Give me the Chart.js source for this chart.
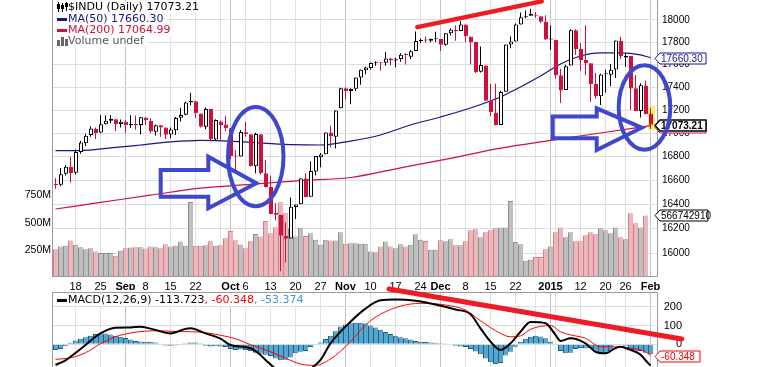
<!DOCTYPE html>
<html><head><meta charset="utf-8">
<script src="https://cdn.jsdelivr.net/npm/chart.js@4.4.1/dist/chart.umd.min.js"></script>
<style>
html,body{margin:0;padding:0;background:#fff;overflow:hidden;width:767px;height:367px;position:relative}
canvas{position:absolute;left:0}
#priceChart{top:0;width:767px;height:290px}
#macdChart{top:286px;width:767px;height:110px}
</style></head><body>
<canvas id="priceChart" width="767" height="290"></canvas>
<canvas id="macdChart" width="767" height="110"></canvas>
<script>
// ---------------- DATA ----------------
const dates = [
'2014-08-12','2014-08-13','2014-08-14','2014-08-15','2014-08-18','2014-08-19','2014-08-20','2014-08-21','2014-08-22','2014-08-25',
'2014-08-26','2014-08-27','2014-08-28','2014-08-29','2014-09-02','2014-09-03','2014-09-04','2014-09-05','2014-09-08','2014-09-09',
'2014-09-10','2014-09-11','2014-09-12','2014-09-15','2014-09-16','2014-09-17','2014-09-18','2014-09-19','2014-09-22','2014-09-23',
'2014-09-24','2014-09-25','2014-09-26','2014-09-29','2014-09-30','2014-10-01','2014-10-02','2014-10-03','2014-10-06','2014-10-07',
'2014-10-08','2014-10-09','2014-10-10','2014-10-13','2014-10-14','2014-10-15','2014-10-16','2014-10-17','2014-10-20','2014-10-21',
'2014-10-22','2014-10-23','2014-10-24','2014-10-27','2014-10-28','2014-10-29','2014-10-30','2014-10-31','2014-11-03','2014-11-04',
'2014-11-05','2014-11-06','2014-11-07','2014-11-10','2014-11-11','2014-11-12','2014-11-13','2014-11-14','2014-11-17','2014-11-18',
'2014-11-19','2014-11-20','2014-11-21','2014-11-24','2014-11-25','2014-11-26','2014-11-28','2014-12-01','2014-12-02','2014-12-03',
'2014-12-04','2014-12-05','2014-12-08','2014-12-09','2014-12-10','2014-12-11','2014-12-12','2014-12-15','2014-12-16','2014-12-17',
'2014-12-18','2014-12-19','2014-12-22','2014-12-23','2014-12-24','2014-12-26','2014-12-29','2014-12-30','2014-12-31','2015-01-02',
'2015-01-05','2015-01-06','2015-01-07','2015-01-08','2015-01-09','2015-01-12','2015-01-13','2015-01-14','2015-01-15','2015-01-16',
'2015-01-20','2015-01-21','2015-01-22','2015-01-23','2015-01-26','2015-01-27','2015-01-28','2015-01-29','2015-01-30','2015-02-02'];

const opens = [
16570,16563,16655,16714,16665,16840,16915,16985,17039,17006,
17078,17107,17120,17080,17098,17068,17080,17070,17136,17108,
17012,17068,17049,16990,17025,17133,17160,17267,17277,17170,
17056,17208,16946,17100,17075,17042,16808,16802,17009,16991,
16718,16992,16659,16544,16330,16315,16140,16121,16379,16401,
16615,16463,16675,16796,16820,17006,16969,17215,17390,17366,
17386,17484,17550,17570,17611,17614,17615,17653,17635,17650,
17690,17670,17720,17810,17820,17813,17826,17827,17777,17880,
17910,17900,17958,17850,17801,17535,17592,17280,17174,17070,
17360,17778,17806,17960,18025,18039,18046,18035,17987,17823,
17821,17505,17374,17591,17907,17741,17641,17612,17428,17320,
17514,17510,17555,17813,17662,17676,17390,17192,17415,17169];

const highs = [
16620,16705,16730,16800,16860,16935,16995,17060,17050,17154,
17153,17158,17122,17119,17112,17155,17150,17140,17136,17130,
17075,17070,17050,17050,17140,17220,17275,17350,17280,17170,
17222,17210,17120,17110,17150,17045,16857,17027,17099,16991,
17005,16992,16770,16640,16410,16315,16250,16458,16400,16615,
16660,16760,16805,16830,17007,17066,17196,17395,17400,17390,
17485,17555,17580,17618,17630,17618,17711,17660,17660,17701,
17700,17730,17895,17832,17850,17830,17894,17827,17880,17924,
17950,17991,17958,17850,17801,17760,17592,17430,17430,17369,
17778,17851,17968,18069,18086,18103,18073,18035,18043,17951,
17821,17562,17597,17916,17917,17792,17952,17612,17525,17517,
17554,17604,17815,17848,17693,17676,17507,17435,17459,17220];

const lows = [
16530,16550,16640,16580,16650,16825,16890,16970,16950,17000,
17075,17086,17016,17050,17000,17045,17030,16990,17070,17000,
16980,16970,16950,16960,16985,17100,17155,17240,17130,17050,
17035,16940,16940,16945,17015,16780,16674,16802,16970,16716,
16660,16650,16540,16320,16270,15855,15926,16121,16280,16401,
16459,16463,16640,16711,16820,16880,16870,17215,17295,17250,
17366,17420,17513,17555,17590,17544,17589,17592,17576,17625,
17600,17650,17720,17790,17796,17800,17800,17721,17767,17860,
17812,17900,17800,17600,17525,17530,17280,17149,17068,17070,
17360,17745,17806,17960,18015,18039,18021,17970,17820,17731,
17475,17262,17374,17591,17685,17542,17505,17270,17299,17244,
17354,17408,17480,17648,17580,17201,17191,17136,17164,17037];

const closes = [
16560.54,16651.80,16713.58,16662.91,16838.74,16919.59,16979.13,17039.49,17001.22,17076.87,
17106.70,17122.01,17079.57,17098.45,17067.56,17078.28,17069.58,17137.36,17111.42,17013.87,
17068.71,17049.00,16987.51,17031.14,17131.97,17156.85,17265.99,17279.74,17172.68,17055.87,
17210.06,16945.80,17113.15,17071.22,17042.90,16804.71,16801.05,17009.69,16991.91,16719.39,
16994.22,16659.25,16544.10,16321.07,16315.19,16141.74,16117.24,16380.41,16399.67,16614.81,
16461.32,16677.90,16805.41,16817.94,17005.75,16974.31,17195.42,17390.52,17366.24,17383.84,
17484.53,17554.47,17573.93,17613.74,17614.90,17612.20,17652.79,17634.74,17647.75,17687.82,
17685.73,17719.00,17810.06,17817.90,17814.94,17827.75,17828.24,17776.80,17879.55,17912.62,
17900.10,17958.79,17852.48,17801.20,17533.15,17596.34,17280.83,17180.84,17068.87,17356.87,
17778.15,17804.80,17959.44,18024.17,18030.21,18053.71,18038.23,17983.07,17823.07,17832.99,
17501.65,17371.64,17584.52,17907.87,17737.37,17640.84,17613.68,17427.09,17320.71,17511.57,
17515.23,17554.28,17813.98,17672.60,17678.70,17387.21,17191.37,17416.85,17164.95,17073.21];

// volume in millions (last day undefined)
const volumes = [
256,280,287,335,296,275,256,265,235,220,
220,220,195,241,265,272,275,275,262,280,
275,265,302,280,287,326,287,690,287,287,
293,330,287,293,357,424,339,300,265,330,
396,372,516,403,458,687,586,449,372,454,
378,403,342,296,342,335,335,412,305,311,
311,305,305,235,228,280,326,280,265,302,
280,296,394,342,332,250,250,339,330,348,
293,293,330,430,440,366,412,430,449,455,
455,699,323,302,149,158,183,183,256,280,
412,455,366,412,330,330,385,412,394,449,
430,403,455,366,348,586,494,455,566.74291,null];

// moving averages, read at sample days
const ma50Idx  = [0,5,11,17,23,29,35,41,47,53,59,65,71,77,83,89,93,97,101,105,109,113,117,119];
const ma50Vals = [16852,16852,16874,16899,16925,16938,16933,16916,16903,16899,16933,16985,17071,17140,17218,17314,17402,17498,17605,17676,17703,17703,17685,17660.30];
const ma200Idx  = [0,9,19,29,39,49,59,69,79,89,99,109,119];
const ma200Vals = [16362,16416,16477,16535,16566,16598,16624,16705,16785,16872,16938,17002,17064.99];

// MACD(12,26,9), read at sample days
const macdIdx  = [0,2,5,9,12,15,17,20,23,26,27,30,33,35,39,41,42,44,46,48,50,53,55,59,62,65,68,72,76,80,83,85,87,89,91,93,95,98,100,101,103,106,108,110,112,113,115,117,118,119];
const macdVals = [-110,-85,-25,58,88,90,94,76,58,82,85,58,30,-4,-21,-57,-83,-130,-175,-180,-150,-83,5,120,190,234,238,232,212,185,160,85,14,-30,5,67,118,112,50,18,32,5,-40,-48,-20,-13,-30,-55,-85,-113.723];
const signalIdx  = [0,3,6,9,12,15,18,21,24,27,30,33,36,39,41,43,46,49,52,55,59,62,65,69,73,78,82,85,89,91,93,95,99,101,103,106,109,111,115,118,119];
const signalVals = [-80,-72,-45,3,40,60,70,72,68,67,62,48,30,-2,-20,-40,-74,-105,-112,-78,14,103,160,203,218,209,182,125,58,40,45,80,100,67,50,32,-13,-13,-21,-39,-60.348];
const histVals = [
-30,-25,-10,8,20,30,38,45,55,58,
58,52,45,40,33,25,18,15,14,13,
10,2,-6,-8,-7,-4,6,10,10,6,
-8,-12,-10,-12,-15,-25,-30,-28,-30,-35,
-45,-50,-55,-62,-75,-85,-82,-70,-48,-40,
-35,-15,-3,10,28,45,70,95,105,112,
115,115,110,100,90,78,65,55,45,38,
32,25,18,14,12,10,8,6,4,0,
-8,-12,-15,-25,-38,-53,-75,-95,-105,-100,
-60,-39,-13,14,30,40,45,42,32,14,
-3,-35,-48,-45,-25,-20,-22,-20,-40,-48,
-45,-35,-5,-2,-8,-30,-40,-35,-45,-53.374];

// axis ticks
const priceTicks = [16000,16200,16400,16600,16800,17000,17200,17400,17600,17800,18000];
const volumeTicks = [250,500,750];
const macdTicks = [0,100,200];
const tickDates = ['2014-08-18','2014-08-25','2014-09-02','2014-09-08','2014-09-15','2014-09-22','2014-09-29','2014-10-01','2014-10-06','2014-10-13','2014-10-20','2014-10-27','2014-11-03','2014-11-10','2014-11-17','2014-11-24','2014-12-01','2014-12-08','2014-12-15','2014-12-22','2014-12-29','2015-01-02','2015-01-05','2015-01-12','2015-01-20','2015-01-26','2015-02-02'];
const tickLabels = ['18','25','Sep','8','15','22','','Oct','6','13','20','27','Nov','10','17','24','Dec','8','15','22','','2015','','12','20','26','Feb'];
const monthLabels = ['Sep','Oct','Nov','Dec','2015','Feb'];

// hand-drawn annotations, in data coordinates [day index, value]
const annTopTrend = [[72.36,17935],[97.24,18170]];
const annEllipse1 = {i0:34.1, i1:46.0, top:17244, bottom:16368};
const annArrow1 = [[21.04,16687],[30.56,16687],[30.56,16800],[40.16,16576],[30.56,16368],[30.56,16464],[21.04,16464]];
const annEllipse2 = {i0:112.24, i1:123.36, top:17611, bottom:16842};
const annArrow2 = [[99.44,17143],[108.24,17143],[108.24,17215],[117.24,17047],[108.24,16857],[108.24,16957],[99.44,16957]];
const annMacdTrend = [[66.7,294],[125.24,28.2]];

// ---------------- STYLE / LAYOUT ----------------
const AXIS_FONT = '"Liberation Sans", Arial, sans-serif';
const LEG_FONT = '"DejaVu Sans", Verdana, sans-serif';
const RED = '#d0103c';
const NAVY = '#16168a';
const PAINT_BLUE = '#3f48cc';
const PAINT_RED = '#ed1c24';
const PRICE_MAX = 18182.6, PRICE_MIN = 15809.7;
const VOL_MAX = 2550e6;
const MACD_MAX = 278.2, MACD_MIN = -275;
const BODY_SHIFT = 0.1; // half-pixel shift (in day units) so 4px bodies sit on whole pixels

const labelsAll = dates.concat(['']);
const n = dates.length;
const last = n - 1;
const upDay = closes.map((c,i) => i === 0 ? c >= opens[0] : c >= closes[i-1]);
const candleColor = upDay.map(u => u ? '#000000' : RED);
const hollow = closes.map((c,i) => c > opens[i]);
const tickIdx = tickDates.map(d => dates.indexOf(d));
const tickText = {}; tickIdx.forEach((ix,k) => tickText[ix] = tickLabels[k]);
const isMonth = ix => monthLabels.includes(tickText[ix]);

function zeroPad(s){ s.paddingTop = 0; s.paddingBottom = 0; s.paddingLeft = 0; s.paddingRight = 0; }

function xScale(show) {
  return {
    type: 'category', labels: labelsAll, offset: true,
    afterBuildTicks: s => { s.ticks = tickIdx.map(v => ({value: v})); },
    grid: { offset: false, drawTicks: false, lineWidth: 1,
      color: c => (c.tick && isMonth(c.tick.value)) ? '#c2c2c2' : '#e2e2e2' },
    border: { display: false },
    ticks: { autoSkip: false, maxRotation: 0, minRotation: 0, padding: 3,
      color: show ? '#000' : 'rgba(0,0,0,0)',
      font: c => ({ family: AXIS_FONT, size: 11, weight: (c.tick && monthLabels.includes(c.tick.label)) ? 'bold' : 'normal' }),
      callback: v => (tickText[v] !== undefined ? tickText[v] : '') },
    afterFit: s => { s.height = show ? 13 : 0; zeroPad(s); }
  };
}

const pt = (idx, vals) => idx.map((ix,k) => ({x: labelsAll[ix], y: vals[k]}));

// ---------------- DRAW HELPERS ----------------
function drawLegend(ctx, x0, lines) {
  ctx.save();
  ctx.font = '11px ' + LEG_FONT;
  ctx.textBaseline = 'middle';
  ctx.textAlign = 'left';
  lines.forEach(L => {
    let w = 0; L.parts.forEach(p => w += ctx.measureText(p[0]).width);
    ctx.fillStyle = '#fff';
    ctx.fillRect(x0, L.y - 6, 15 + w + 2, 12);
    const ix = x0 + 2;
    if (L.icon === 'line') { ctx.fillStyle = L.iconColor; ctx.fillRect(ix + 1, L.y - 1, 10, 3); }
    if (L.icon === 'candle') {
      ctx.fillStyle = '#000';
      ctx.fillRect(ix + 2, L.y - 5, 1, 10); ctx.fillRect(ix + 1, L.y - 3, 3, 5);
      ctx.fillRect(ix + 6, L.y - 4, 1, 9); ctx.fillRect(ix + 5, L.y - 2, 3, 4);
      ctx.fillRect(ix + 10, L.y - 5, 1, 9); ctx.fillRect(ix + 9, L.y - 4, 3, 4);
    }
    if (L.icon === 'bars') {
      ctx.fillStyle = '#666';
      ctx.fillRect(ix + 1, L.y - 1, 3, 6); ctx.fillRect(ix + 5, L.y - 4, 3, 9); ctx.fillRect(ix + 9, L.y - 2, 3, 7);
    }
    let tx = x0 + 14;
    L.parts.forEach(p => { ctx.fillStyle = p[1]; ctx.fillText(p[0], tx, L.y + 0.5); tx += ctx.measureText(p[0]).width; });
  });
  ctx.restore();
}

function drawTag(ctx, xTip, yv, text, stroke, color, bold, w) {
  const yc = Math.round(yv) + 0.5, h = 11, x0 = xTip + 5;
  ctx.save();
  ctx.beginPath();
  ctx.moveTo(xTip, yc);
  ctx.lineTo(x0, yc - h / 2);
  ctx.lineTo(x0 + w, yc - h / 2);
  ctx.lineTo(x0 + w, yc + h / 2);
  ctx.lineTo(x0, yc + h / 2);
  ctx.closePath();
  ctx.fillStyle = '#fff'; ctx.fill();
  ctx.lineWidth = bold ? 1.5 : 1; ctx.strokeStyle = stroke; ctx.stroke();
  ctx.fillStyle = color;
  ctx.font = (bold ? 'bold ' : '') + '10px ' + AXIS_FONT;
  ctx.textBaseline = 'middle'; ctx.textAlign = 'left';
  ctx.fillText(text, x0 + 1, yc + 0.5);
  ctx.restore();
}

function strokeBorder(ctx, a, sides) {
  ctx.save(); ctx.strokeStyle = '#9c9c9c'; ctx.lineWidth = 1; ctx.beginPath();
  const L = Math.round(a.left) - 0.5, R = Math.round(a.right) - 0.5, T = Math.round(a.top) + 0.5, B = Math.round(a.bottom) - 0.5;
  if (sides.includes('l')) { ctx.moveTo(L, a.top); ctx.lineTo(L, a.bottom); }
  if (sides.includes('r')) { ctx.moveTo(R, a.top); ctx.lineTo(R, a.bottom); }
  if (sides.includes('t')) { ctx.moveTo(L, T); ctx.lineTo(R, T); }
  if (sides.includes('b')) { ctx.moveTo(L, B); ctx.lineTo(R, B); }
  ctx.stroke(); ctx.restore();
}

// ---------------- PRICE / VOLUME CHART ----------------
const priceDecor = {
  id: 'priceDecor',
  beforeDatasetsDraw(chart) {
    const {ctx, scales: {x, y}} = chart;
    const cx = x.getPixelForValue(last);
    const t = y.getPixelForValue(highs[last]) - 2, b = y.getPixelForValue(lows[last]) + 1;
    ctx.save(); ctx.fillStyle = '#f6f07a'; ctx.fillRect(Math.round(cx - 3), t, 7, b - t); ctx.restore();
  },
  afterDraw(chart) {
    const {ctx, chartArea: a, scales: {x, y, yv}} = chart;
    strokeBorder(ctx, a, 'lrb');
    drawLegend(ctx, 54, [
      {y: 7, icon: 'candle', parts: [['$INDU (Daily) ' + closes[last].toFixed(2), '#000']]},
      {y: 19, icon: 'line', iconColor: NAVY, parts: [['MA(50) ' + ma50Vals[ma50Vals.length-1].toFixed(2), NAVY]]},
      {y: 30, icon: 'line', iconColor: RED, parts: [['MA(200) ' + ma200Vals[ma200Vals.length-1].toFixed(2), RED]]},
      {y: 41, icon: 'bars', parts: [['Volume undef', '#555']]}
    ]);
    const tip = Math.round(a.right) - 3;
    drawTag(ctx, tip, y.getPixelForValue(ma50Vals[ma50Vals.length-1]), ma50Vals[ma50Vals.length-1].toFixed(2), NAVY, NAVY, false, 46);
    drawTag(ctx, tip, y.getPixelForValue(ma200Vals[ma200Vals.length-1]) + 1, ma200Vals[ma200Vals.length-1].toFixed(2), RED, RED, false, 46);
    drawTag(ctx, tip, y.getPixelForValue(closes[last]), closes[last].toFixed(2), '#000', '#000', true, 46);
    const lastVol = volumes[n - 2];
    drawTag(ctx, tip, yv.getPixelForValue(lastVol * 1e6), String(Math.round(lastVol * 1e6)), '#000', '#000', false, 48);

    const P = (i, v) => [x.getPixelForValue(i), y.getPixelForValue(v)];
    ctx.save();
    ctx.strokeStyle = PAINT_RED; ctx.lineWidth = 4.5; ctx.lineCap = 'round';
    ctx.beginPath();
    let p0 = P(...annTopTrend[0]), p1 = P(...annTopTrend[1]);
    ctx.moveTo(p0[0], p0[1]); ctx.lineTo(p1[0], p1[1]); ctx.stroke();
    ctx.strokeStyle = PAINT_BLUE; ctx.lineWidth = 4; ctx.lineCap = 'butt'; ctx.lineJoin = 'miter'; ctx.miterLimit = 4;
    [annEllipse1, annEllipse2].forEach(e => {
      const [xl, yt] = P(e.i0, e.top), [xr, yb] = P(e.i1, e.bottom);
      ctx.beginPath();
      ctx.ellipse((xl + xr) / 2, (yt + yb) / 2, (xr - xl) / 2 - 2, (yb - yt) / 2 - 2, 0, 0, Math.PI * 2);
      ctx.stroke();
    });
    [annArrow1, annArrow2].forEach(arr => {
      ctx.beginPath();
      arr.forEach((q, k) => { const [px, py] = P(q[0], q[1]); if (k === 0) ctx.moveTo(px, py); else ctx.lineTo(px, py); });
      ctx.closePath(); ctx.stroke();
    });
    ctx.restore();
  }
};

new Chart(document.getElementById('priceChart'), {
  type: 'bar',
  data: {
    labels: labelsAll,
    datasets: [
      { type: 'bar', label: 'body', xAxisID: 'xb', yAxisID: 'y', order: 1, grouped: false,
        data: dates.map((d,i) => ({x: i, y: [Math.min(opens[i], closes[i]), Math.max(opens[i], closes[i])]})),
        barThickness: 4, minBarLength: 1, borderWidth: 1, borderSkipped: false, inflateAmount: 0,
        backgroundColor: hollow.map((h,i) => h ? '#ffffff' : candleColor[i]), borderColor: candleColor },
      { type: 'bar', label: 'wick', yAxisID: 'y', order: 2, grouped: false,
        data: dates.map((d,i) => [lows[i], highs[i]]),
        barThickness: 1, borderWidth: 0, inflateAmount: 0, backgroundColor: candleColor },
      { type: 'line', label: 'MA50', yAxisID: 'y', order: 3, data: pt(ma50Idx, ma50Vals),
        borderColor: NAVY, borderWidth: 1.2, pointRadius: 0, cubicInterpolationMode: 'monotone' },
      { type: 'line', label: 'MA200', yAxisID: 'y', order: 4, data: pt(ma200Idx, ma200Vals),
        borderColor: RED, borderWidth: 1.2, pointRadius: 0, cubicInterpolationMode: 'monotone' },
      { type: 'bar', label: 'Volume', yAxisID: 'yv', order: 5, grouped: false,
        data: volumes.map(v => v == null ? null : v * 1e6),
        barPercentage: 1, categoryPercentage: 1, inflateAmount: 0,
        borderWidth: {left: 1, top: 1, right: 0, bottom: 0}, borderSkipped: false,
        backgroundColor: upDay.map(u => u ? '#bfbfbf' : '#e9b7bc'),
        borderColor: upDay.map(u => u ? '#8e8e8e' : '#d6808b') }
    ]
  },
  options: {
    responsive: false, animation: false, devicePixelRatio: 1, events: [],
    layout: { padding: 0 },
    plugins: { legend: { display: false }, tooltip: { enabled: false } },
    scales: {
      x: xScale(true),
      xb: { type: 'linear', display: false, offset: false, position: 'bottom',
        min: -0.5 - BODY_SHIFT, max: labelsAll.length - 0.5 - BODY_SHIFT, bounds: 'data' },
      y: { type: 'logarithmic', position: 'right', min: PRICE_MIN, max: PRICE_MAX, bounds: 'data',
        afterBuildTicks: s => { s.ticks = priceTicks.map(v => ({value: v})); },
        grid: { color: '#dedede', drawTicks: false }, border: { display: false },
        ticks: { autoSkip: false, padding: 4, crossAlign: 'near', color: '#000',
          font: { family: AXIS_FONT, size: 10 }, callback: v => String(v) },
        afterFit: s => { s.width = 109; zeroPad(s); } },
      yv: { type: 'linear', position: 'left', min: 0, max: VOL_MAX, bounds: 'data',
        afterBuildTicks: s => { s.ticks = volumeTicks.map(v => ({value: v * 1e6})); },
        grid: { display: false, drawTicks: false }, border: { display: false },
        ticks: { autoSkip: false, padding: 2, color: '#000',
          font: { family: AXIS_FONT, size: 10.5 }, callback: v => Math.round(v / 1e6) + 'M' },
        afterFit: s => { s.width = 53; zeroPad(s); } }
    }
  },
  plugins: [priceDecor]
});

// ---------------- MACD CHART ----------------
const macdDecor = {
  id: 'macdDecor',
  afterDraw(chart) {
    const {ctx, chartArea: a, scales: {x, y}} = chart;
    strokeBorder(ctx, a, 'lrt');
    drawLegend(ctx, 54, [
      {y: 14, icon: 'line', iconColor: '#000', parts: [
        ['MACD(12,26,9) ' + macdVals[macdVals.length-1].toFixed(3), '#000'],
        [', ' + signalVals[signalVals.length-1].toFixed(3), '#ff0000'],
        [', ' + histVals[histVals.length-1].toFixed(3), '#3a9ad2']]}
    ]);
    const tip = Math.round(a.right) - 3;
    drawTag(ctx, tip, y.getPixelForValue(signalVals[signalVals.length-1]), signalVals[signalVals.length-1].toFixed(3), '#ff0000', '#ff0000', false, 40);
    ctx.save();
    ctx.strokeStyle = PAINT_RED; ctx.lineWidth = 5; ctx.lineCap = 'round';
    ctx.beginPath();
    ctx.moveTo(x.getPixelForValue(annMacdTrend[0][0]), y.getPixelForValue(annMacdTrend[0][1]));
    ctx.lineTo(x.getPixelForValue(annMacdTrend[1][0]), y.getPixelForValue(annMacdTrend[1][1]));
    ctx.stroke();
    ctx.restore();
  }
};

new Chart(document.getElementById('macdChart'), {
  type: 'bar',
  data: {
    labels: labelsAll,
    datasets: [
      { type: 'line', label: 'MACD', order: 1, data: pt(macdIdx, macdVals),
        borderColor: '#000', borderWidth: 2, pointRadius: 0, cubicInterpolationMode: 'monotone' },
      { type: 'line', label: 'Signal', order: 2, data: pt(signalIdx, signalVals),
        borderColor: '#ff0000', borderWidth: 1, pointRadius: 0, cubicInterpolationMode: 'monotone' },
      { type: 'bar', label: 'Histogram', order: 3, grouped: false, data: histVals,
        barPercentage: 1, categoryPercentage: 1, inflateAmount: 0,
        borderWidth: {left: 1, top: 1, bottom: 1, right: 0}, borderSkipped: 'start',
        backgroundColor: '#56a6d2', borderColor: '#225f80' }
    ]
  },
  options: {
    responsive: false, animation: false, devicePixelRatio: 1, events: [],
    layout: { padding: { left: 53, top: 6, right: 85, bottom: 0 } },
    plugins: { legend: { display: false }, tooltip: { enabled: false } },
    scales: {
      x: xScale(false),
      y: { type: 'linear', position: 'right', min: MACD_MIN, max: MACD_MAX, bounds: 'data',
        afterBuildTicks: s => { s.ticks = macdTicks.map(v => ({value: v})); },
        grid: { color: '#dedede', drawTicks: false }, border: { display: false },
        ticks: { autoSkip: false, padding: 0, crossAlign: 'far', color: '#000',
          font: { family: AXIS_FONT, size: 11 }, callback: v => String(v) },
        afterFit: s => { s.width = 24; zeroPad(s); } }
    }
  },
  plugins: [macdDecor]
});
</script>
</body></html>
